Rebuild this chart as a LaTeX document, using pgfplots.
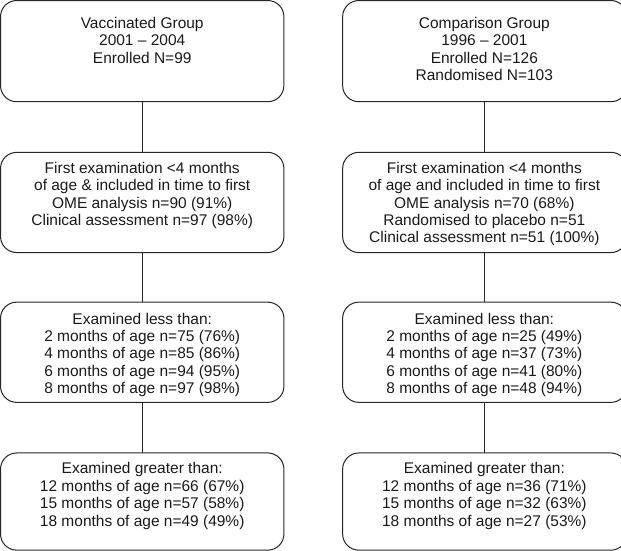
\documentclass[border=0pt]{standalone}
\usepackage{fontspec}
\setmainfont{Liberation Sans}
\usepackage{pgfplots}
\pgfplotsset{compat=1.18}
\begin{document}
\begin{tikzpicture}[
  box/.style={black!85, line width=1pt, rounded corners=16pt},
  link/.style={black!85, line width=1pt, mark=none},
  txt/.style={anchor=north, align=center, inner sep=0pt, text=black!90,
    font=\fontsize{15.3}{17.2}\selectfont},
]
\begin{axis}[
  x=1pt, y=1pt, y dir=reverse,
  xmin=0, xmax=621, ymin=0, ymax=552,
  hide axis, clip=true,
]
% boxes, left column (Vaccinated) and right column (Comparison)
\addplot[box] coordinates {(8,7) (288,7) (288,107) (8,107)} -- cycle;
\addplot[box] coordinates {(8,157) (288,157) (288,256) (8,256)} -- cycle;
\addplot[box] coordinates {(8,305) (288,305) (288,404) (8,404)} -- cycle;
\addplot[box] coordinates {(8,454) (288,454) (288,550) (8,550)} -- cycle;
\addplot[box] coordinates {(346,7) (627,7) (627,107) (346,107)} -- cycle;
\addplot[box] coordinates {(346,157) (627,157) (627,256) (346,256)} -- cycle;
\addplot[box] coordinates {(346,305) (627,305) (627,404) (346,404)} -- cycle;
\addplot[box] coordinates {(346,454) (627,454) (627,550) (346,550)} -- cycle;

% connectors
\addplot[link] coordinates {(148,107) (148,157)};
\addplot[link] coordinates {(148,256) (148,305)};
\addplot[link] coordinates {(148,404) (148,454)};
\addplot[link] coordinates {(486,107) (486,157)};
\addplot[link] coordinates {(486,256) (486,305)};
\addplot[link] coordinates {(486,404) (486,454)};

% text
\node[txt] at (axis cs:148,23.3) {Vaccinated Group\\2001 – 2004\\Enrolled N=99};
\node[txt] at (axis cs:486,23.3) {Comparison Group\\1996 – 2001\\Enrolled N=126\\Randomised N=103};

\node[txt] at (axis cs:148,166.3) {First examination <4 months\\of age \& included in time to first\\OME analysis n=90 (91\%)\\Clinical assessment n=97 (98\%)};
\node[txt] at (axis cs:486,166.3) {First examination <4 months\\of age and included in time to first\\OME analysis n=70 (68\%)\\Randomised to placebo n=51\\Clinical assessment n=51 (100\%)};

\node[txt] at (axis cs:148,315.3) {Examined less than:\\2 months of age n=75 (76\%)\\4 months of age n=85 (86\%)\\6 months of age n=94 (95\%)\\8 months of age n=97 (98\%)};
\node[txt] at (axis cs:486,315.3) {Examined less than:\\2 months of age n=25 (49\%)\\4 months of age n=37 (73\%)\\6 months of age n=41 (80\%)\\8 months of age n=48 (94\%)};

\node[txt] at (axis cs:148,463.3) {Examined greater than:\\12 months of age n=66 (67\%)\\15 months of age n=57 (58\%)\\18 months of age n=49 (49\%)};
\node[txt] at (axis cs:486,463.3) {Examined greater than:\\12 months of age n=36 (71\%)\\15 months of age n=32 (63\%)\\18 months of age n=27 (53\%)};
\end{axis}
\end{tikzpicture}
\end{document}
